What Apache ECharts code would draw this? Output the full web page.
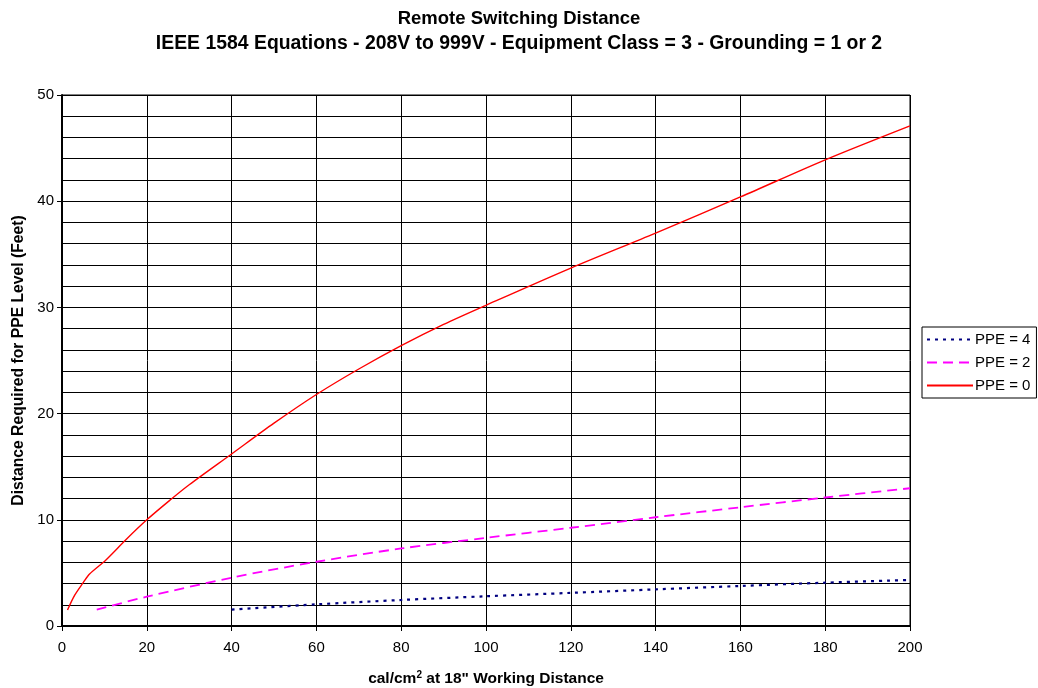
<!DOCTYPE html>
<html>
<head>
<meta charset="utf-8">
<script src="https://cdn.jsdelivr.net/npm/echarts@6/dist/echarts.min.js"></script>
<style>
html,body{margin:0;padding:0;background:#fff;}
#c{width:1038px;height:688px;}
</style>
</head>
<body>
<div id="c"></div>
<script>
var titleLine1 = 'Remote Switching Distance';
var titleLine2 = 'IEEE 1584 Equations - 208V to 999V - Equipment Class = 3 - Grounding = 1 or 2';
var seriesNames = ['PPE = 4', 'PPE = 2', 'PPE = 0'];

var ppe4X = [40, 60, 80, 100, 120, 140, 160, 180, 200];
var ppe4Y = [1.54, 2.04, 2.45, 2.8, 3.12, 3.45, 3.77, 4.08, 4.33];

var ppe2X = [8.2, 20, 40, 60, 80, 100, 120, 140, 160, 180, 200];
var ppe2Y = [1.54, 2.76, 4.55, 6.05, 7.3, 8.3, 9.25, 10.24, 11.18, 12.1, 12.97];

var ppe0X = [1.3, 3, 5, 6.5, 10.3, 15, 20, 25.5, 30, 40, 50, 60, 70, 80, 90, 100, 120, 140, 160, 180, 200];
var ppe0Y = [1.5, 2.9, 4.08, 4.9, 6.2, 8.1, 10.0, 11.86, 13.3, 16.2, 19.1, 21.8, 24.2, 26.4, 28.4, 30.2, 33.7, 37.0, 40.4, 43.9, 47.1];

function pairs(xs, ys){ return xs.map(function(x,i){ return [x, ys[i]]; }); }

var font = '"Liberation Sans", Arial, sans-serif';
var chart = echarts.init(document.getElementById('c'), null, {renderer:'canvas'});
chart.setOption({
  animation: false,
  backgroundColor: '#fff',
  title: [
    {text: titleLine1, left: 'center', top: 4, textStyle:{fontFamily:font, fontSize:18.5, fontWeight:'bold', color:'#000'}},
    {text: titleLine2, left: 'center', top: 29, textStyle:{fontFamily:font, fontSize:19.4, fontWeight:'bold', color:'#000'}}
  ],
  legend: {
    orient: 'vertical', left: 922, top: 327, width: 115,
    padding: [5, 6, 5, 4], itemGap: 8, itemWidth: 46, itemHeight: 15,
    borderColor: '#000', borderWidth: 1, backgroundColor: '#fff',
    itemStyle: {opacity: 0},
    textStyle: {fontFamily: font, fontSize: 15, color: '#000', padding:[0,0,0,-3]},
    data: seriesNames
  },
  grid: {left: 62, right: 128, top: 95, bottom: 62, show: true, borderColor:'#000', borderWidth:1, outerBoundsMode: 'none', containLabel: false},
  xAxis: {
    type: 'value', min: 0, max: 200, interval: 20,
    name: 'cal/cm{sup|2} at 18" Working Distance',
    nameLocation: 'middle', nameGap: 44,
    nameTextStyle: {fontFamily: font, fontSize: 15.5, fontWeight: 'bold', color: '#000',
      rich: {sup: {fontFamily: font, fontSize: 10, fontWeight:'bold', color:'#000', verticalAlign:'top', padding:[0,0,8,0]}}},
    axisLine: {lineStyle: {color: '#000', width: 2}},
    axisTick: {show: true, inside: false, length: 5, lineStyle:{color:'#000'}},
    axisLabel: {fontFamily: font, fontSize: 15, color: '#000', margin: 14},
    splitLine: {show: true, lineStyle: {color: '#000', width: 1}}
  },
  yAxis: [{
    type: 'value', min: 0, max: 50, interval: 10,
    name: 'Distance Required for PPE Level (Feet)',
    nameLocation: 'middle', nameGap: 35, nameRotate: 90,
    nameTextStyle: {fontFamily: font, fontSize: 15.7, fontWeight: 'bold', color: '#000'},
    axisLine: {show: true, lineStyle: {color: '#000', width: 2}},
    axisTick: {show: true, inside: false, length: 5, lineStyle:{color:'#000'}},
    axisLabel: {fontFamily: font, fontSize: 15, color: '#000', margin: 8},
    splitLine: {show: false}
  }, {
    type: 'value', min: 0, max: 50, interval: 2, position: 'left',
    axisLine: {show: false}, axisTick: {show: false}, axisLabel: {show: false},
    splitLine: {show: true, lineStyle: {color: '#000', width: 1}}
  }],
  series: [
    {name: seriesNames[0], type: 'line', data: pairs(ppe4X, ppe4Y), symbol: 'none', smooth: 0.3,
     lineStyle: {color: '#000080', width: 2.2, type: [3, 5]}, itemStyle:{color:'#000080'}, z: 3},
    {name: seriesNames[1], type: 'line', data: pairs(ppe2X, ppe2Y), symbol: 'none', smooth: 0.3,
     lineStyle: {color: '#ff00ff', width: 1.8, type: [10, 6]}, itemStyle:{color:'#ff00ff'}, z: 3},
    {name: seriesNames[2], type: 'line', data: pairs(ppe0X, ppe0Y), symbol: 'none', smooth: 0.3,
     lineStyle: {color: '#ff0000', width: 1.4, type: 'solid'}, itemStyle:{color:'#ff0000'}, z: 3}
  ]
});
</script>
</body>
</html>
